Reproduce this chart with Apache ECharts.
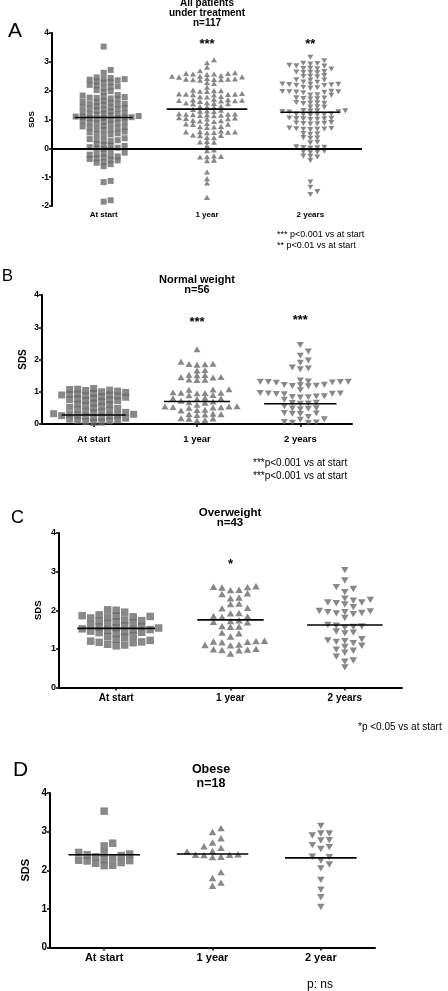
<!DOCTYPE html>
<html><head><meta charset="utf-8">
<script src="https://cdn.jsdelivr.net/npm/echarts@6/dist/echarts.min.js"></script>
<style>html,body{margin:0;padding:0;background:#fff}#c{width:448px;height:991px}</style>
</head><body><div id="c"></div>
<script>
// ---------- DATA ----------
const categoriesABC = ['At start', '1 year', '2 years'];
const categoriesD = ['At start', '1 year', '2 year'];

const aStart = [3.53, 2.72, 2.62, 2.46, 2.44, 2.42, 2.40, 2.38, 2.36, 2.32, 2.30, 2.28, 2.20, 2.18, 2.15, 2.13, 2.10, 2.02, 1.98, 1.95, 1.85, 1.83, 1.80, 1.78, 1.76, 1.75, 1.73, 1.70, 1.65, 1.62, 1.60, 1.58, 1.55, 1.55, 1.52, 1.50, 1.46, 1.44, 1.42, 1.40, 1.38, 1.36, 1.34, 1.32, 1.28, 1.25, 1.22, 1.20, 1.20, 1.18, 1.16, 1.14, 1.12, 1.10, 1.09, 1.08, 1.07, 1.06, 1.05, 1.04, 1.02, 1.00, 0.95, 0.93, 0.92, 0.90, 0.88, 0.87, 0.85, 0.78, 0.76, 0.74, 0.72, 0.70, 0.68, 0.66, 0.64, 0.58, 0.55, 0.52, 0.50, 0.48, 0.45, 0.35, 0.32, 0.30, 0.28, 0.26, 0.25, 0.15, 0.12, 0.10, 0.08, 0.04, 0.02, 0.00, -0.02, -0.05, -0.15, -0.18, -0.20, -0.22, -0.25, -0.28, -0.32, -0.35, -0.37, -0.40, -0.42, -0.48, -0.50, -0.55, -0.62, -1.13, -1.17, -1.85, -1.80];
const a1Year = [3.07, 2.97, 2.81, 2.69, 2.62, 2.60, 2.60, 2.58, 2.58, 2.56, 2.52, 2.50, 2.50, 2.48, 2.47, 2.42, 2.41, 2.40, 2.40, 2.39, 2.38, 2.38, 2.36, 2.28, 2.25, 2.12, 2.02, 2.00, 2.00, 1.98, 1.97, 1.90, 1.89, 1.88, 1.88, 1.87, 1.86, 1.85, 1.80, 1.79, 1.78, 1.70, 1.69, 1.68, 1.67, 1.66, 1.65, 1.64, 1.63, 1.58, 1.57, 1.56, 1.55, 1.54, 1.46, 1.45, 1.44, 1.42, 1.35, 1.32, 1.30, 1.29, 1.28, 1.20, 1.19, 1.18, 1.18, 1.17, 1.16, 1.15, 1.14, 1.13, 1.06, 1.05, 1.04, 1.03, 1.02, 0.97, 0.96, 0.95, 0.93, 0.86, 0.85, 0.84, 0.83, 0.76, 0.75, 0.74, 0.72, 0.60, 0.58, 0.57, 0.57, 0.56, 0.55, 0.54, 0.46, 0.45, 0.44, 0.38, 0.37, 0.24, 0.22, 0.21, 0.10, -0.06, -0.08, -0.26, -0.28, -0.29, -0.30, -0.41, -0.43, -0.82, -1.05, -1.20, -1.70];
const a2Years = [3.16, 3.04, 2.95, 2.94, 2.92, 2.88, 2.86, 2.85, 2.78, 2.77, 2.76, 2.75, 2.66, 2.65, 2.64, 2.63, 2.62, 2.52, 2.50, 2.49, 2.48, 2.38, 2.37, 2.36, 2.30, 2.29, 2.23, 2.22, 2.22, 2.21, 2.20, 2.19, 2.18, 2.12, 2.10, 2.08, 1.98, 1.97, 1.96, 1.96, 1.95, 1.94, 1.93, 1.86, 1.85, 1.84, 1.75, 1.74, 1.73, 1.72, 1.71, 1.59, 1.58, 1.57, 1.56, 1.55, 1.44, 1.43, 1.42, 1.31, 1.30, 1.30, 1.29, 1.28, 1.27, 1.26, 1.19, 1.18, 1.17, 1.17, 1.16, 1.15, 1.05, 1.04, 1.03, 1.02, 1.02, 1.01, 1.00, 0.89, 0.88, 0.87, 0.86, 0.85, 0.84, 0.70, 0.69, 0.68, 0.67, 0.66, 0.66, 0.65, 0.51, 0.50, 0.49, 0.37, 0.36, 0.35, 0.21, 0.19, 0.05, 0.04, 0.03, 0.02, 0.01, -0.10, -0.12, -0.13, -0.14, -0.27, -0.28, -0.30, -0.42, -1.17, -1.35, -1.50, -1.60];

const bStart = [1.10, 1.08, 1.07, 1.05, 1.04, 1.02, 1.00, 0.98, 0.95, 0.93, 0.92, 0.90, 0.90, 0.88, 0.87, 0.85, 0.83, 0.80, 0.78, 0.76, 0.75, 0.73, 0.72, 0.70, 0.65, 0.62, 0.60, 0.58, 0.55, 0.52, 0.50, 0.48, 0.45, 0.43, 0.40, 0.38, 0.36, 0.35, 0.32, 0.30, 0.30, 0.28, 0.27, 0.26, 0.25, 0.24, 0.22, 0.20, 0.18, 0.15, 0.13, 0.12, 0.10, 0.08, 0.06, 0.05];
const b1Year = [2.32, 1.93, 1.87, 1.86, 1.85, 1.84, 1.67, 1.66, 1.53, 1.52, 1.51, 1.46, 1.45, 1.44, 1.38, 1.37, 1.36, 1.08, 1.07, 1.06, 0.98, 0.97, 0.97, 0.96, 0.95, 0.90, 0.89, 0.81, 0.80, 0.79, 0.78, 0.72, 0.70, 0.67, 0.66, 0.60, 0.55, 0.54, 0.54, 0.53, 0.52, 0.51, 0.50, 0.44, 0.43, 0.42, 0.32, 0.31, 0.30, 0.29, 0.28, 0.18, 0.17, 0.16, 0.12, 0.11];
const b2Years = [2.45, 2.25, 2.12, 1.97, 1.90, 1.75, 1.72, 1.70, 1.35, 1.32, 1.31, 1.31, 1.30, 1.30, 1.29, 1.28, 1.22, 1.21, 1.20, 1.19, 1.18, 1.17, 1.05, 0.96, 0.95, 0.95, 0.94, 0.93, 0.92, 0.86, 0.85, 0.84, 0.83, 0.82, 0.75, 0.66, 0.65, 0.64, 0.63, 0.55, 0.49, 0.48, 0.47, 0.46, 0.34, 0.33, 0.32, 0.31, 0.22, 0.15, 0.13, 0.06, 0.05, 0.04, 0.03, -0.02];

const cStart = [2.01, 2.00, 1.95, 1.88, 1.86, 1.85, 1.84, 1.83, 1.82, 1.80, 1.75, 1.73, 1.72, 1.70, 1.68, 1.66, 1.62, 1.60, 1.58, 1.57, 1.55, 1.54, 1.52, 1.50, 1.50, 1.48, 1.46, 1.45, 1.43, 1.42, 1.40, 1.35, 1.32, 1.30, 1.25, 1.22, 1.20, 1.18, 1.17, 1.16, 1.12, 1.10, 1.08];
const c1Year = [2.62, 2.61, 2.60, 2.59, 2.53, 2.52, 2.44, 2.42, 2.33, 2.31, 2.17, 2.16, 2.06, 2.05, 1.93, 1.92, 1.85, 1.84, 1.83, 1.74, 1.72, 1.70, 1.69, 1.59, 1.58, 1.57, 1.42, 1.40, 1.32, 1.21, 1.20, 1.19, 1.18, 1.17, 1.11, 1.10, 1.09, 1.00, 0.99, 0.98, 0.97, 0.96, 0.88];
const c2Years = [3.04, 2.77, 2.60, 2.55, 2.47, 2.30, 2.27, 2.25, 2.20, 2.20, 2.18, 2.15, 2.08, 1.98, 1.97, 1.95, 1.95, 1.93, 1.92, 1.90, 1.80, 1.62, 1.60, 1.58, 1.57, 1.55, 1.45, 1.42, 1.40, 1.25, 1.22, 1.20, 1.18, 1.15, 1.08, 1.05, 0.98, 0.95, 0.90, 0.80, 0.70, 0.67, 0.52];

const dStart = [3.53, 2.70, 2.63, 2.46, 2.45, 2.42, 2.40, 2.38, 2.35, 2.32, 2.28, 2.26, 2.25, 2.24, 2.20, 2.18, 2.13, 2.12];
const d1Year = [3.09, 2.99, 2.83, 2.72, 2.62, 2.58, 2.50, 2.49, 2.41, 2.40, 2.40, 2.39, 2.35, 2.34, 1.95, 1.80, 1.68, 1.60];
const d2Year = [3.15, 2.95, 2.95, 2.90, 2.78, 2.77, 2.65, 2.60, 2.55, 2.35, 2.34, 2.25, 2.15, 2.05, 1.75, 1.50, 1.30, 1.05];

const mediansA = [1.07, 1.36, 1.25];
const mediansB = [0.28, 0.70, 0.63];
const mediansC = [1.53, 1.75, 1.62];
const mediansD = [2.40, 2.42, 2.32];

const yRangeA = [-2, 4];
const yRangeB = [0, 4];
const yRangeC = [0, 4];
const yRangeD = [0, 4];

const titleA = 'All patients\nunder treatment\nn=117';
const titleB = 'Normal weight\nn=56';
const titleC = 'Overweight\nn=43';
const titleD = 'Obese\nn=18';
const starsA = ['', '***', '**'];
const starsB = ['', '***', '***'];
const starsC = ['', '*', ''];
const starsD = ['', '', ''];
const notesA = ['*** p<0.001 vs at start', '** p<0.01 vs at start'];
const notesB = ['***p<0.001 vs at start', '***p<0.001 vs at start'];
const notesC = ['*p <0.05 vs at start'];
const notesD = ['p: ns'];

// ---------- LAYOUT / STYLE ----------
const FONT = '"Liberation Sans", Arial, Helvetica, sans-serif';
const GRAY = '#6a6a6a';
const panels = [
  { letter: 'A', cats: categoriesABC, groups: [aStart, a1Year, a2Years], medians: mediansA, yr: yRangeA,
    title: titleA, stars: starsA, notes: notesA,
    grid: { left: 52, top: 33, width: 310, height: 173 }, size: 6, ovl: 0.65, half: [0.28, 0.39, 0.29],
    xFont: 8, yFont: 8.5, nameFont: 8, nameGap: 16, xMargin: 5, zeroLine: true,
    letterPos: [15, 31, 21], titlePos: [207, -1.5, 10, 10], starY: [44, 44, 44], notePos: [277, 234.5, 9, 10.7] },
  { letter: 'B', cats: categoriesABC, groups: [bStart, b1Year, b2Years], medians: mediansB, yr: yRangeB,
    title: titleB, stars: starsB, notes: notesB,
    grid: { left: 42, top: 295, width: 310, height: 129 }, size: 7, ovl: 0.65, half: [0.31, 0.32, 0.35],
    xFont: 9.5, yFont: 8.5, nameFont: 10, nameGap: 14, xMargin: 10, zeroLine: false,
    letterPos: [7.5, 276, 17], titlePos: [197, 274.5, 11, 10], starY: [322, 322, 320], notePos: [253, 463.5, 10, 12.3] },
  { letter: 'C', cats: categoriesABC, groups: [cStart, c1Year, c2Years], medians: mediansC, yr: yRangeC,
    title: titleC, stars: starsC, notes: notesC,
    grid: { left: 59, top: 533, width: 343, height: 154.5 }, size: 7.5, ovl: 0.75, half: [0.34, 0.29, 0.33],
    xFont: 10, yFont: 9, nameFont: 9.5, nameGap: 16, xMargin: 6, zeroLine: false,
    letterPos: [17.5, 518.5, 18], titlePos: [230, 507.5, 11.5, 10.5], starY: [564, 564, 564], notePos: [358, 727, 10, 12] },
  { letter: 'D', cats: categoriesD, groups: [dStart, d1Year, d2Year], medians: mediansD, yr: yRangeD,
    title: titleD, stars: starsD, notes: notesD,
    grid: { left: 50, top: 793, width: 325, height: 154.5 }, size: 7.5, ovl: 0.8, half: [0.33, 0.33, 0.33],
    xFont: 11, yFont: 10, nameFont: 11, nameGap: 19, xMargin: 5, zeroLine: false,
    letterPos: [20.5, 770.5, 21], titlePos: [211, 763, 12.5, 13.4], starY: [0, 0, 0], notePos: [307, 985, 12, 13] }
];
const symbols = [
  { symbol: 'rect', rot: 0, k: 1 },
  { symbol: 'triangle', rot: 0, k: 0.85 },
  { symbol: 'triangle', rot: 180, k: 0.85 }
];

// deterministic column beeswarm (GraphPad-like layout)
function swarm(values, center, pxPerUnit, pxPerBand, size, ovl) {
  const step = size + 1;
  const sorted = values.slice().sort((a, b) => a - b);
  const placed = [];
  const out = [];
  for (const v of sorted) {
    const py = v * pxPerUnit;
    for (let k = 0; k < 60; k++) {
      const col = k === 0 ? 0 : (k % 2 ? (k + 1) / 2 : -(k / 2));
      if (!placed.some(q => q.col === col && Math.abs(q.py - py) < size * ovl)) {
        placed.push({ col, py });
        out.push([center + col * step / pxPerBand, v]);
        break;
      }
    }
  }
  return out;
}

const grids = [], xAxes = [], yAxes = [], series = [], graphics = [];
panels.forEach((p, i) => {
  grids.push(Object.assign({ containLabel: false }, p.grid));
  xAxes.push({
    type: 'category', gridIndex: i, data: p.cats, position: 'bottom',
    axisLine: { show: !p.zeroLine, onZero: false, lineStyle: { color: '#000', width: 2 } },
    axisTick: { show: !p.zeroLine, alignWithLabel: true, length: 3, lineStyle: { color: '#000', width: 1.5 } },
    axisLabel: { color: '#000', fontFamily: FONT, fontWeight: 'bold', fontSize: p.xFont, margin: p.xMargin },
    splitLine: { show: false }
  });
  xAxes.push({ type: 'value', gridIndex: i, min: 0, max: 3, show: false });
  yAxes.push({
    type: 'value', gridIndex: i, min: p.yr[0], max: p.yr[1], interval: 1,
    name: 'SDS', nameLocation: 'middle', nameGap: p.nameGap, nameRotate: 90, nameMoveOverlap: false,
    nameTextStyle: { color: '#000', fontFamily: FONT, fontWeight: 'bold', fontSize: p.nameFont },
    axisLine: { show: true, lineStyle: { color: '#000', width: 2 } },
    axisTick: { show: true, length: 3, lineStyle: { color: '#000', width: 1.5 } },
    axisLabel: { color: '#000', fontFamily: FONT, fontWeight: 'bold', fontSize: p.yFont, margin: 3 },
    splitLine: { show: false }
  });
  const pxPerUnit = p.grid.height / (p.yr[1] - p.yr[0]);
  const pxPerBand = p.grid.width / 3;
  p.groups.forEach((vals, g) => {
    const s = symbols[g];
    series.push({
      type: 'scatter', xAxisIndex: 2 * i + 1, yAxisIndex: i, z: 2,
      symbol: s.symbol, symbolRotate: s.rot, symbolSize: [p.size, p.size * s.k],
      itemStyle: { color: GRAY },
      data: swarm(vals, g + 0.5, pxPerUnit, pxPerBand, p.size, p.ovl)
    });
    const m = p.medians[g];
    const hw = p.half[g];
    const ser = {
      type: 'line', xAxisIndex: 2 * i + 1, yAxisIndex: i, z: 5, symbol: 'none',
      lineStyle: { color: '#000', width: 1.6 },
      data: [[g + 0.5 - hw, m], [g + 0.5 + hw, m]]
    };
    if (p.zeroLine && g === 0) {
      ser.markLine = { silent: true, symbol: ['none', 'none'], label: { show: false },
        lineStyle: { color: '#000', width: 2, type: 'solid' }, data: [{ yAxis: 0 }] };
    }
    series.push(ser);
    if (p.stars[g]) {
      const cx = p.grid.left + pxPerBand * (g + 0.5);
      graphics.push({ type: 'text', x: cx, y: p.starY[g], style: { text: p.stars[g], x: 0, y: 0,
        font: 'bold 13px ' + FONT, fill: '#000', textAlign: 'center', textVerticalAlign: 'middle' } });
    }
  });
  graphics.push({ type: 'text', x: p.letterPos[0], y: p.letterPos[1], style: { text: p.letter,
    font: p.letterPos[2] + 'px ' + FONT, fill: '#000', textAlign: 'center', textVerticalAlign: 'middle' } });
  graphics.push({ type: 'text', x: p.titlePos[0], y: p.titlePos[1], style: { text: p.title,
    font: 'bold ' + p.titlePos[2] + 'px ' + FONT, lineHeight: p.titlePos[3], fill: '#000',
    textAlign: 'center', textVerticalAlign: 'top' } });
  p.notes.forEach((t, j) => {
    graphics.push({ type: 'text', x: p.notePos[0], y: p.notePos[1] + j * p.notePos[3], style: { text: t,
      font: p.notePos[2] + 'px ' + FONT, fill: '#000', textAlign: 'left', textVerticalAlign: 'middle' } });
  });
});

const chart = echarts.init(document.getElementById('c'), null, { renderer: 'canvas' });
chart.setOption({
  animation: false, backgroundColor: '#fff',
  grid: grids, xAxis: xAxes, yAxis: yAxes, series: series, graphic: graphics
});
</script>
</body></html>
